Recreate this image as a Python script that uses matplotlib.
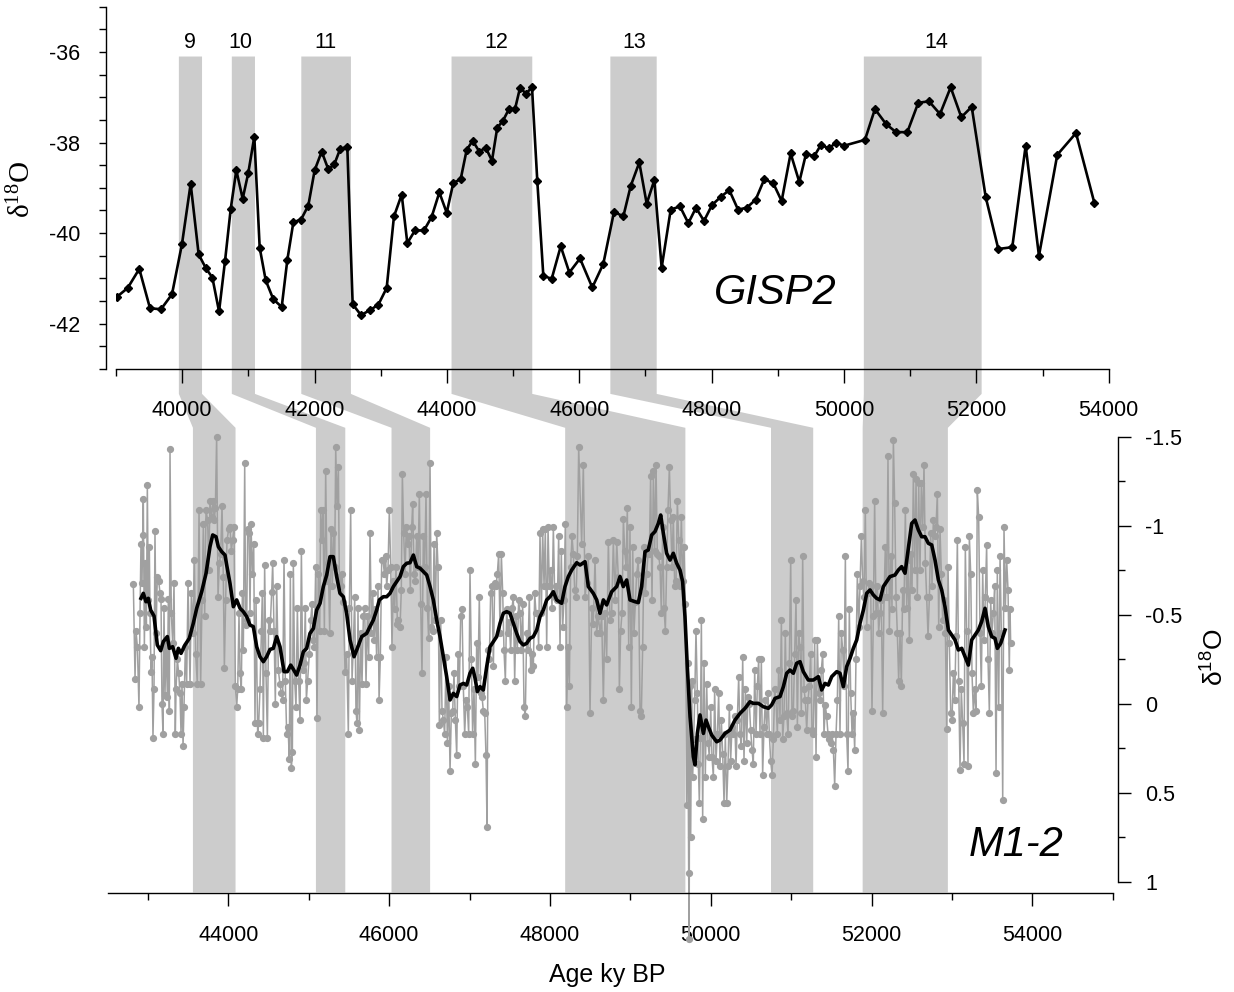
import matplotlib
matplotlib.use('Agg')
import matplotlib.pyplot as plt
from matplotlib.patches import Polygon
from matplotlib.ticker import MultipleLocator, FixedLocator, FormatStrFormatter

plt.rcParams['font.family'] = ['Liberation Sans', 'DejaVu Sans']
plt.rcParams['axes.unicode_minus'] = False
plt.rcParams['mathtext.fontset'] = 'custom'
plt.rcParams['mathtext.rm'] = 'Liberation Serif'

# GISP2 ice core d18O
gisp_age = [39020, 39177, 39352, 39514, 39680, 39846, 39997, 40128, 40249, 40360,
            40456, 40557, 40647, 40733, 40818, 40914, 40999, 41090, 41171, 41262,
            41377, 41504, 41589, 41680, 41796, 41906, 42002, 42108, 42208, 42299,
            42385, 42495, 42576, 42702, 42838, 42964, 43090, 43200, 43317, 43402,
            43518, 43654, 43770, 43886, 43997, 44097, 44208, 44299, 44390, 44490,
            44586, 44681, 44761, 44843, 44938, 45029, 45105, 45195, 45286, 45366,
            45457, 45583, 45720, 45850, 46011, 46197, 46363, 46525, 46666, 46777,
            46907, 47019, 47134, 47245, 47382, 47522, 47648, 47764, 47885, 48006,
            48137, 48267, 48399, 48530, 48666, 48796, 48932, 49058, 49194, 49325,
            49426, 49551, 49652, 49773, 49879, 50000, 50317, 50468, 50635, 50786,
            50957, 51123, 51285, 51451, 51612, 51773, 51930, 52141, 52332, 52543,
            52745, 52946, 53223, 53506, 53783]
gisp_d18o = [-41.40, -41.21, -40.79, -41.66, -41.68, -41.35, -40.24, -38.91, -40.47, -40.78,
             -40.98, -41.73, -40.62, -39.47, -38.61, -39.24, -38.67, -37.87, -40.32, -41.04,
             -41.46, -41.63, -40.59, -39.76, -39.70, -39.39, -38.61, -38.20, -38.59, -38.48,
             -38.15, -38.09, -41.57, -41.81, -41.70, -41.58, -41.21, -39.63, -39.15, -40.22,
             -39.94, -39.94, -39.64, -39.10, -39.55, -38.89, -38.81, -38.16, -37.96, -38.20,
             -38.11, -38.40, -37.67, -37.53, -37.26, -37.26, -36.79, -36.92, -36.78, -38.85,
             -40.94, -41.01, -40.29, -40.87, -40.56, -41.20, -40.68, -39.53, -39.63, -38.96,
             -38.44, -39.35, -38.83, -40.76, -39.48, -39.41, -39.78, -39.44, -39.73, -39.38,
             -39.20, -39.05, -39.48, -39.44, -39.26, -38.81, -38.90, -39.29, -38.24, -38.87,
             -38.25, -38.30, -38.05, -38.13, -38.00, -38.07, -37.94, -37.26, -37.59, -37.77,
             -37.77, -37.12, -37.09, -37.37, -36.78, -37.44, -37.21, -39.20, -40.35, -40.31,
             -38.07, -40.50, -38.27, -37.79, -39.33]

# M1-2 stalagmite d18O, raw
m12_age = [42819, 42840, 42852, 42869, 42889, 42902, 42914, 42927, 42935, 42943,
           42956, 42968, 42981, 42993, 43005, 43018, 43026, 43039, 43051, 43063,
           43076, 43088, 43101, 43117, 43134, 43151, 43163, 43175, 43188, 43200,
           43213, 43225, 43242, 43254, 43267, 43275, 43291, 43308, 43325, 43341,
           43350, 43366, 43383, 43399, 43412, 43424, 43437, 43449, 43466, 43482,
           43499, 43524, 43540, 43557, 43578, 43594, 43615, 43636, 43656, 43673,
           43690, 43706, 43723, 43743, 43756, 43772, 43793, 43810, 43826, 43839,
           43855, 43872, 43889, 43905, 43922, 43938, 43951, 43967, 43984, 44005,
           44021, 44038, 44054, 44071, 44088, 44104, 44117, 44133, 44146, 44162,
           44175, 44187, 44204, 44216, 44229, 44241, 44258, 44270, 44282, 44299,
           44316, 44332, 44345, 44365, 44378, 44394, 44411, 44423, 44436, 44452,
           44469, 44486, 44502, 44519, 44540, 44552, 44569, 44585, 44602, 44622,
           44643, 44660, 44676, 44693, 44709, 44726, 44743, 44759, 44772, 44784,
           44797, 44809, 44826, 44842, 44859, 44875, 44892, 44909, 44925, 44942,
           44958, 44971, 44987, 45008, 45025, 45041, 45054, 45070, 45087, 45103,
           45120, 45137, 45149, 45166, 45178, 45195, 45211, 45228, 45244, 45261,
           45278, 45294, 45307, 45323, 45336, 45352, 45369, 45381, 45398, 45414,
           45431, 45452, 45472, 45493, 45506, 45522, 45539, 45555, 45572, 45588,
           45601, 45613, 45630, 45647, 45663, 45680, 45696, 45713, 45729, 45746,
           45763, 45779, 45796, 45812, 45829, 45845, 45862, 45875, 45891, 45908,
           45924, 45941, 45957, 45970, 45986, 46003, 46020, 46036, 46053, 46069,
           46086, 46103, 46115, 46136, 46152, 46165, 46181, 46198, 46214, 46231,
           46248, 46264, 46281, 46293, 46310, 46326, 46343, 46360, 46376, 46393,
           46409, 46426, 46443, 46459, 46476, 46492, 46509, 46526, 46542, 46559,
           46575, 46592, 46608, 46625, 46642, 46658, 46675, 46691, 46708, 46725,
           46741, 46758, 46774, 46791, 46807, 46824, 46841, 46857, 46874, 46890,
           46907, 46923, 46940, 46957, 46973, 46990, 47006, 47023, 47039, 47056,
           47073, 47089, 47106, 47122, 47139, 47156, 47172, 47189, 47205, 47218,
           47230, 47247, 47263, 47280, 47297, 47313, 47330, 47346, 47363, 47380,
           47396, 47413, 47429, 47446, 47462, 47479, 47495, 47512, 47529, 47545,
           47562, 47578, 47595, 47611, 47628, 47645, 47661, 47678, 47694, 47711,
           47728, 47744, 47761, 47778, 47794, 47811, 47827, 47844, 47860, 47877,
           47894, 47910, 47927, 47943, 47960, 47977, 47993, 48010, 48026, 48043,
           48060, 48076, 48093, 48109, 48126, 48142, 48159, 48175, 48192, 48209,
           48225, 48242, 48258, 48275, 48292, 48308, 48325, 48341, 48358,
           48395, 48416, 48437, 48457, 48478, 48499, 48520, 48540, 48561, 48582,
           48603, 48623, 48644, 48665, 48685, 48706, 48727, 48748, 48768, 48789,
           48810, 48831, 48851, 48864, 48880, 48897, 48914, 48930, 48947, 48963,
           48980, 48996, 49013, 49030, 49046, 49063, 49079, 49100, 49121, 49137,
           49154, 49171, 49187, 49204, 49220, 49237, 49253, 49270, 49287, 49303,
           49320, 49336, 49353, 49370, 49386, 49403, 49419, 49436, 49452, 49469,
           49486, 49502, 49519, 49535, 49552, 49569, 49585, 49602, 49618, 49635,
           49651, 49668, 49685, 49701, 49714, 49726, 49732, 49739, 49751, 49763,
           49776, 49788, 49801, 49817, 49834, 49846, 49859, 49871, 49884, 49900,
           49917, 49933, 49950, 49967, 49983, 50000, 50016, 50033, 50049, 50066,
           50083, 50099, 50116, 50132, 50149, 50166, 50182, 50199, 50215, 50232,
           50248, 50265, 50282, 50298, 50315, 50331, 50348, 50365, 50381, 50398,
           50414, 50431, 50448, 50464, 50481, 50497, 50514, 50530, 50547, 50564,
           50580, 50597, 50613, 50630, 50646, 50663, 50680, 50696, 50713, 50729,
           50746, 50763, 50779, 50796, 50812, 50829, 50845, 50862, 50879, 50895,
           50912, 50928, 50945, 50962, 50978, 50995, 51011, 51028, 51044, 51061,
           51078, 51094, 51111, 51127, 51144, 51161, 51177, 51194, 51210, 51227,
           51243, 51260, 51277, 51293, 51310, 51326, 51343, 51360, 51376, 51393,
           51409, 51426, 51442, 51459, 51476, 51492, 51509, 51526, 51542, 51559,
           51575, 51592, 51608, 51625, 51642, 51658, 51675, 51691, 51708, 51724,
           51741, 51758, 51774, 51791, 51807, 51824, 51841, 51857, 51874, 51890,
           51907, 51923, 51940, 51957, 51973, 51990, 52006, 52023, 52039, 52056,
           52073, 52089, 52106, 52122, 52139, 52156, 52172, 52189, 52205, 52222,
           52239, 52255, 52272, 52288, 52305, 52321, 52338, 52355, 52371, 52388,
           52404, 52421, 52438, 52454, 52471, 52487, 52504, 52521, 52537, 52554,
           52570, 52587, 52603, 52620, 52637, 52653, 52670, 52686, 52703, 52720,
           52736, 52753, 52769, 52786, 52802, 52819, 52836, 52852, 52869, 52885,
           52902, 52919, 52935, 52952, 52968, 52985, 53001, 53018, 53035, 53051,
           53068, 53084, 53101, 53117, 53134, 53151, 53167, 53184, 53200, 53217,
           53234, 53250, 53267, 53283, 53300, 53316, 53333, 53350, 53366, 53383,
           53399, 53416, 53432, 53449, 53466, 53482, 53499, 53516, 53532, 53549,
           53565, 53582, 53599, 53615, 53632, 53648, 53665, 53681, 53698, 53714,
           53723, 53731]
m12_d18o = [-0.67, -0.14, -0.41, -0.32, 0.02, -0.51, -0.90, -0.68, -0.95, -1.15,
            -0.32, -0.79, -0.43, -1.23, -0.58, -0.88, -0.51, -0.18, -0.26, 0.19,
            -0.08, -0.97, -0.40, -0.71, -0.69, -0.62, -0.59, 0.00, 0.17, -0.54,
            -0.05, -0.36, -0.04, -0.59, 0.04, -1.43, -0.51, -0.34, -0.68, 0.17,
            -0.08, -0.25, -0.17, -0.06, 0.17, -0.11, 0.24, 0.02, -0.32, -0.11,
            -0.68, -0.11, -0.62, -0.40, -0.81, -0.28, -0.11, -1.09, -0.11, -0.58,
            -1.01, -0.49, -1.09, -1.03, -0.75, -1.14, -1.05, -1.14, -1.03, -1.10,
            -1.50, -0.60, -0.79, -0.84, -1.11, -0.71, -0.20, -0.58, -0.92, -0.98,
            -0.99, -0.86, -0.92, -0.99, -0.10, 0.02, -0.08, -0.51, -0.17, -0.08,
            -0.62, -0.30, -1.35, -0.44, -0.47, -0.98, -0.96, -0.51, -1.01, -0.73,
            -0.90, 0.11, -0.58, 0.17, 0.11, -0.08, -0.41, -0.62, 0.19, -0.78,
            -0.17, 0.19, -0.47, -0.41, -0.63, -0.79, -0.41, 0.00, -0.66, -0.19,
            -0.11, -0.06, -0.02, -0.81, -0.13, 0.17, 0.13, 0.31, -0.73, 0.36,
            0.27, -0.79, -0.13, 0.02, -0.54, -0.13, 0.09, -0.86, -0.19, -0.23,
            -0.54, -0.02, -0.13, -0.28, -0.47, -0.56, -0.36, -0.32, -0.77, 0.08,
            -0.73, -0.41, -1.09, -0.92, -1.09, -0.41, -1.31, -0.69, -0.79, -0.40,
            -0.98, -0.66, -0.96, -0.77, -1.44, -1.11, -1.33, -0.71, -0.66, -0.73,
            -0.57, -0.18, -0.28, 0.17, -0.54, -1.09, -0.13, -0.32, -0.60, 0.04,
            0.11, -0.54, 0.15, -0.40, -0.11, -0.49, -0.54, -0.11, -0.49, -0.26,
            -0.96, -0.40, -0.62, -0.36, -0.53, -0.26, -0.66, -0.02, -0.26, -0.81,
            -0.81, -0.73, -0.83, -0.66, -0.75, -1.09, -0.77, -0.32, -0.69, -0.53,
            -0.77, -0.45, -0.47, -0.43, -0.64, -1.29, -0.96, -0.73, -0.99, -0.90,
            -0.94, -0.64, -0.99, -1.12, -0.73, -0.69, -0.94, -0.77, -1.18, -0.56,
            -0.17, -0.94, -0.77, -1.18, -0.54, -0.37, -1.35, -0.43, -0.41, -0.90,
            -0.47, -0.96, -0.77, 0.12, -0.47, 0.04, 0.09, 0.17, -0.26, 0.22,
            -0.10, 0.38, 0.05, 0.04, -0.17, 0.09, 0.29, -0.28, -0.10, -0.49,
            -0.53, -0.10, 0.17, -0.02, 0.02, 0.17, -0.75, -0.25, 0.17, -0.08,
            0.34, -0.34, -0.15, -0.60, -0.06, -0.04, 0.04, 0.05, 0.29, 0.69,
            -0.30, -0.25, -0.62, -0.66, -0.21, -0.68, -0.66, -0.73, -0.84, -0.40,
            -0.84, -0.62, -0.30, -0.13, -0.53, -0.40, -0.46, -0.30, -0.54, -0.60,
            -0.13, -0.49, -0.30, -0.58, -0.51, -0.30, -0.56, 0.02, 0.07, -0.40,
            -0.30, -0.60, -0.19, -0.28, -0.21, -0.62, -0.51, -0.51, -0.32, -0.96,
            -0.51, -0.98, -0.66, -0.98, -0.32, -0.99, -0.66, -0.75, -0.54, -0.99,
            -0.60, -0.66, -0.58, -0.94, -0.32, -0.86, -0.43, -0.58, -1.01, 0.02,
            -0.32, -0.10, -0.77, -0.94, -0.84, -0.64, -0.60, -0.83, -1.44,
            -0.90, -1.34, -0.60, -0.68, -0.83, 0.05, -0.54, -0.45, -0.81, -0.40,
            -0.49, -0.40, -0.49, -0.02, -0.51, -0.25, -0.91, -0.47, -0.51, -0.92,
            -0.58, -0.91, -0.71, -0.08, -0.41, -0.51, -1.04, -0.86, -0.77, -1.10,
            -0.32, -0.99, 0.02, -0.88, -0.40, -0.57, -0.73, -0.81, 0.04, 0.07,
            -0.32, -0.88, -0.62, -0.73, -0.84, -0.84, -1.28, -0.58, -1.31, -0.86,
            -1.34, -0.84, -0.83, -0.77, -0.51, -0.99, -0.54, -0.41, -0.77, -1.09,
            -1.33, -1.03, -0.77, -1.05, -0.66, -0.69, -1.14, -0.92, -0.66, -1.05,
            -0.69, -0.88, -0.56, 0.57, -0.23, 0.95, 1.32, -0.10, 0.75, -0.13,
            0.41, 0.20, -0.02, -0.41, -0.06, 0.34, 0.56, 0.19, -0.47, 0.65,
            -0.23, 0.41, -0.11, 0.22, 0.30, 0.02, 0.30, 0.41, -0.08, 0.32,
            0.17, -0.06, 0.35, 0.09, 0.28, 0.56, 0.17, 0.56, 0.35, 0.02,
            0.32, 0.13, 0.17, 0.07, 0.35, 0.09, -0.15, 0.17, 0.24, -0.26,
            0.32, -0.08, 0.22, -0.04, 0.00, 0.15, 0.26, 0.34, -0.19, 0.17,
            -0.10, -0.25, 0.17, -0.25, 0.40, 0.13, -0.02, 0.17, -0.06, 0.17,
            0.32, 0.40, 0.20, -0.08, -0.02, 0.17, -0.19, 0.09, -0.47, 0.20,
            0.07, -0.40, 0.05, 0.17, -0.23, -0.81, 0.07, 0.04, -0.28, -0.58,
            0.13, -0.40, -0.32, 0.05, -0.83, -0.08, -0.02, 0.15, -0.02, -0.10,
            -0.28, 0.15, 0.17, -0.36, 0.30, -0.36, -0.06, -0.02, -0.19, -0.28,
            0.17, 0.01, 0.07, 0.17, 0.20, 0.22, 0.17, 0.26, 0.46, 0.17,
            -0.02, -0.49, 0.17, -0.40, -0.30, -0.10, -0.83, 0.17, 0.38, -0.53,
            -0.06, 0.17, 0.05, 0.26, -0.25, -0.73, -0.43, -0.66, -0.94, -0.69,
            -0.60, -1.09, -0.43, -0.62, -0.68, -0.66, 0.04, -0.49, -1.14, -0.51,
            -0.66, -0.40, -0.51, -0.58, 0.05, -0.60, -0.88, -0.60, -1.39, -0.41,
            -0.83, -0.53, -1.48, -1.13, -0.60, -0.40, -0.13, -0.40, -0.10, -0.64,
            -0.53, -1.09, -0.54, -0.81, -0.36, -0.84, -0.64, -1.29, -0.75, -1.26,
            -0.60, -1.24, -0.75, -1.24, -0.99, -1.34, -0.79, -0.60, -0.38, -0.60,
            -0.96, -0.66, -1.03, -0.94, -0.99, -1.18, -0.43, -0.98, -0.73, -0.47,
            -0.58, -0.40, 0.14, -0.77, -0.34, 0.05, 0.09, -0.17, -0.02, -0.38,
            -0.92, -0.13, 0.37, -0.08, 0.11, 0.34, -0.88, -0.41, 0.35, -0.94,
            -0.73, -0.17, 0.05, -0.08, 0.04, -1.20, -1.05, -0.40, -0.10, -0.75,
            -0.36, -0.60, -0.89, -0.25, 0.05, -0.58, -0.40, -0.51, -0.66, 0.39,
            -0.75, 0.02, -0.83, -0.40, 0.54, -0.99, -0.54, -0.81, -0.64, -0.19,
            -0.53, -0.34]

# M1-2 smoothed curve
smooth_age = [42914, 42943, 42976, 43005, 43034, 43076, 43117, 43159, 43192, 43242,
              43267, 43308, 43350, 43379, 43412, 43461, 43515, 43565, 43607, 43669,
              43723, 43772, 43806, 43847, 43876, 43918, 43959, 43980, 44021, 44063,
              44104, 44146, 44187, 44229, 44270, 44311, 44353, 44394, 44436, 44477,
              44519, 44560, 44602, 44643, 44693, 44734, 44776, 44809, 44850, 44892,
              44933, 44975, 45016, 45058, 45099, 45141, 45182, 45224, 45265, 45306,
              45348, 45389, 45431, 45472, 45514, 45564, 45605, 45659, 45721, 45762,
              45804, 45845, 45879, 45928, 45970, 46011, 46053, 46094, 46136, 46177,
              46219, 46260, 46302, 46343, 46385, 46426, 46468, 46509, 46550, 46592,
              46633, 46675, 46716, 46758, 46799, 46841, 46882, 46924, 46965, 47006,
              47040, 47069, 47098, 47131, 47172, 47214, 47255, 47297, 47338, 47380,
              47421, 47462, 47504, 47545, 47587, 47628, 47670, 47711, 47753, 47794,
              47836, 47877, 47918, 47960, 48001, 48043, 48084, 48146, 48188, 48229,
              48271, 48333, 48375, 48437, 48478, 48540, 48582, 48623, 48665, 48706,
              48768, 48831, 48872, 48913, 48955, 48996, 49059, 49100, 49141, 49183,
              49224, 49266, 49307, 49349, 49378, 49411, 49452, 49494, 49535, 49577,
              49618, 49651, 49680, 49709, 49743, 49784, 49805, 49834, 49867, 49909,
              49942, 49971, 50012, 50074, 50116, 50178, 50240, 50302, 50365, 50427,
              50489, 50530, 50593, 50655, 50717, 50758, 50800, 50862, 50904, 50945,
              50986, 51028, 51069, 51111, 51152, 51214, 51277, 51339, 51380, 51422,
              51463, 51505, 51567, 51608, 51650, 51691, 51733, 51774, 51816, 51857,
              51899, 51940, 51982, 52023, 52064, 52106, 52147, 52189, 52230, 52292,
              52334, 52375, 52417, 52458, 52500, 52541, 52583, 52624, 52666, 52707,
              52749, 52790, 52832, 52873, 52914, 52956, 52997, 53039, 53080, 53122,
              53163, 53205, 53246, 53288, 53329, 53370, 53412, 53453, 53495, 53536,
              53565, 53607, 53661]
smooth_d18o = [-0.592, -0.620, -0.573, -0.592, -0.526, -0.493, -0.330, -0.298, -0.349, -0.377,
               -0.311, -0.320, -0.255, -0.311, -0.283, -0.330, -0.367, -0.452, -0.536, -0.629,
               -0.732, -0.882, -0.948, -0.938, -0.882, -0.854, -0.835, -0.779, -0.676, -0.545,
               -0.583, -0.536, -0.517, -0.489, -0.442, -0.433, -0.320, -0.264, -0.236, -0.264,
               -0.305, -0.311, -0.377, -0.320, -0.180, -0.180, -0.217, -0.193, -0.161, -0.217,
               -0.292, -0.311, -0.395, -0.423, -0.526, -0.564, -0.658, -0.723, -0.826, -0.826,
               -0.714, -0.620, -0.601, -0.508, -0.358, -0.264, -0.311, -0.377, -0.395, -0.433,
               -0.470, -0.526, -0.583, -0.601, -0.601, -0.620, -0.658, -0.686, -0.714, -0.770,
               -0.789, -0.792, -0.835, -0.770, -0.761, -0.742, -0.723, -0.658, -0.583, -0.470,
               -0.377, -0.264, -0.152, -0.021, -0.058, -0.040, -0.105, -0.114, -0.105, -0.171,
               -0.199, -0.143, -0.068, -0.096, -0.077, -0.208, -0.320, -0.349, -0.377, -0.452,
               -0.508, -0.517, -0.508, -0.452, -0.395, -0.349, -0.330, -0.339, -0.367, -0.377,
               -0.414, -0.489, -0.526, -0.583, -0.601, -0.629, -0.583, -0.564, -0.658, -0.714,
               -0.751, -0.792, -0.779, -0.798, -0.658, -0.620, -0.583, -0.508, -0.583, -0.555,
               -0.629, -0.658, -0.714, -0.658, -0.695, -0.583, -0.573, -0.568, -0.658, -0.854,
               -0.864, -0.948, -0.967, -1.013, -1.060, -0.957, -0.845, -0.807, -0.845, -0.789,
               -0.751, -0.686, -0.489, -0.208, 0.073, 0.298, 0.344, 0.167, 0.063, 0.167,
               0.092, 0.129, 0.176, 0.214, 0.204, 0.167, 0.148, 0.092, 0.054, 0.026,
               -0.011, -0.002, -0.002, 0.017, 0.026, 0.007, -0.030, -0.040, -0.096, -0.171,
               -0.189, -0.171, -0.227, -0.236, -0.180, -0.133, -0.133, -0.152, -0.077, -0.114,
               -0.105, -0.152, -0.180, -0.171, -0.096, -0.208, -0.255, -0.311, -0.358, -0.452,
               -0.526, -0.620, -0.639, -0.611, -0.592, -0.583, -0.658, -0.686, -0.714, -0.723,
               -0.751, -0.770, -0.733, -0.873, -1.013, -1.032, -0.976, -0.938, -0.938, -0.901,
               -0.892, -0.807, -0.695, -0.639, -0.545, -0.414, -0.386, -0.358, -0.302, -0.311,
               -0.264, -0.217, -0.358, -0.386, -0.414, -0.461, -0.536, -0.433, -0.377, -0.367,
               -0.311, -0.339, -0.414]

# interstadial bands (GISP2 ages and matching M1-2 ages)
is_names = ['9', '10', '11', '12', '13', '14']
is_label_age = [40120, 40880, 42170, 44750, 46830, 51400]
gisp_band_start = [39950, 40750, 41800, 44070, 46470, 50300]
gisp_band_end = [40300, 41100, 42550, 45290, 47170, 52080]
m12_band_start = [43560, 45090, 46030, 48190, 50750, 51890]
m12_band_end = [44090, 45455, 46510, 49685, 51275, 52950]

assert len(m12_age) == len(m12_d18o)
assert len(smooth_age) == len(smooth_d18o)

W, H = 1234, 992
fig = plt.figure(figsize=(W / 100, H / 100), dpi=100)

ax1 = fig.add_axes([116 / W, 1 - 369 / H, (1108.7 - 116) / W, (369 - 6.7) / H])
ax2 = fig.add_axes([107.7 / W, 1 - 881.7 / H, (1112.7 - 107.7) / W, (881.7 - 436.7) / H])

band_col = '#cccccc'
tick_fs = 15.5

# --- top panel: GISP2
ax1.set_xlim(39000, 54000)
ax1.set_ylim(-43, -35)
ax1.patch.set_visible(False)
ax1.spines['top'].set_visible(False)
ax1.spines['right'].set_visible(False)
ax1.spines['left'].set_position(('outward', 7.2))
for s in ['left', 'bottom']:
    ax1.spines[s].set_linewidth(1.0)
ax1.xaxis.set_major_locator(MultipleLocator(2000))
ax1.xaxis.set_minor_locator(MultipleLocator(1000))
ax1.xaxis.set_major_formatter(FormatStrFormatter('%d'))
ax1.yaxis.set_major_locator(FixedLocator([-42, -40, -38, -36]))
ax1.yaxis.set_minor_locator(MultipleLocator(0.5))
ax1.yaxis.set_major_formatter(FormatStrFormatter('%d'))
ax1.tick_params(axis='x', which='major', length=10, width=1.0, pad=12, labelsize=tick_fs)
ax1.tick_params(axis='x', which='minor', length=5, width=1.0)
ax1.tick_params(axis='y', which='both', length=5.3, width=1.0, pad=13.5, labelsize=tick_fs)

ax1.plot(gisp_age, gisp_d18o, color='black', lw=1.9, marker='D', ms=4, zorder=3)
for name, a in zip(is_names, is_label_age):
    ax1.text(a, -35.79, name, ha='center', va='center', fontsize=15.5)
ax1.text(0.664, 0.21, 'GISP2', transform=ax1.transAxes, ha='center', va='center',
         fontsize=30, style='italic')

# --- bottom panel: M1-2
ax2.set_xlim(42500, 55000)
ax2.set_ylim(1, -1.5)
ax2.patch.set_visible(False)
ax2.spines['top'].set_visible(False)
ax2.spines['left'].set_visible(False)
ax2.spines['bottom'].set_position(('outward', 8.4))
ax2.spines['right'].set_position(('outward', 4))
for s in ['right', 'bottom']:
    ax2.spines[s].set_linewidth(1.0)
ax2.yaxis.tick_right()
ax2.xaxis.set_major_locator(MultipleLocator(2000))
ax2.xaxis.set_minor_locator(MultipleLocator(1000))
ax2.xaxis.set_major_formatter(FormatStrFormatter('%d'))
ax2.yaxis.set_major_locator(MultipleLocator(0.5))
ax2.yaxis.set_minor_locator(MultipleLocator(0.25))
ax2.yaxis.set_major_formatter(FormatStrFormatter('%g'))
ax2.tick_params(axis='both', which='major', length=9.6, width=1.0, labelsize=tick_fs)
ax2.tick_params(axis='both', which='minor', length=4.8, width=1.0)
ax2.tick_params(axis='x', which='major', pad=13)
ax2.tick_params(axis='y', which='major', pad=9.6)

ax2.plot(m12_age, m12_d18o, color='#a0a0a0', lw=1.1, marker='o', ms=4.2,
         clip_on=False, zorder=2)
ax2.plot(smooth_age, smooth_d18o, color='black', lw=2.6, zorder=3)
ax2.text(0.904, 0.0825, 'M1-2', transform=ax2.transAxes, ha='center', va='center',
         fontsize=30, style='italic')

# --- correlation bands linking the two records
inv = fig.transFigure.inverted()


def fpt(ax, x, y):
    return inv.transform(ax.transData.transform((x, y)))


for a1, a2, b1, b2 in zip(gisp_band_start, gisp_band_end, m12_band_start, m12_band_end):
    verts = [fpt(ax1, a1, -36.1), fpt(ax1, a1, -43.55), fpt(ax2, b1, -1.55),
             fpt(ax2, b1, 1.06), fpt(ax2, b2, 1.06), fpt(ax2, b2, -1.55),
             fpt(ax1, a2, -43.55), fpt(ax1, a2, -36.1)]
    fig.add_artist(Polygon(verts, closed=True, transform=fig.transFigure,
                           facecolor=band_col, edgecolor='none', zorder=-5))

# axis titles
fig.text(22 / W, 1 - 190 / H, r'$\mathregular{\delta^{18}}$O', rotation=90,
         ha='center', va='center', fontsize=21, family='Liberation Serif')
fig.text(1215 / W, 1 - 657 / H, r'$\mathregular{\delta^{18}}$O', rotation=90,
         ha='center', va='center', fontsize=19)
fig.text(607 / W, 1 - 975 / H, 'Age ky BP', ha='center', va='center', fontsize=18)

fig.savefig('out.png', dpi=100)
